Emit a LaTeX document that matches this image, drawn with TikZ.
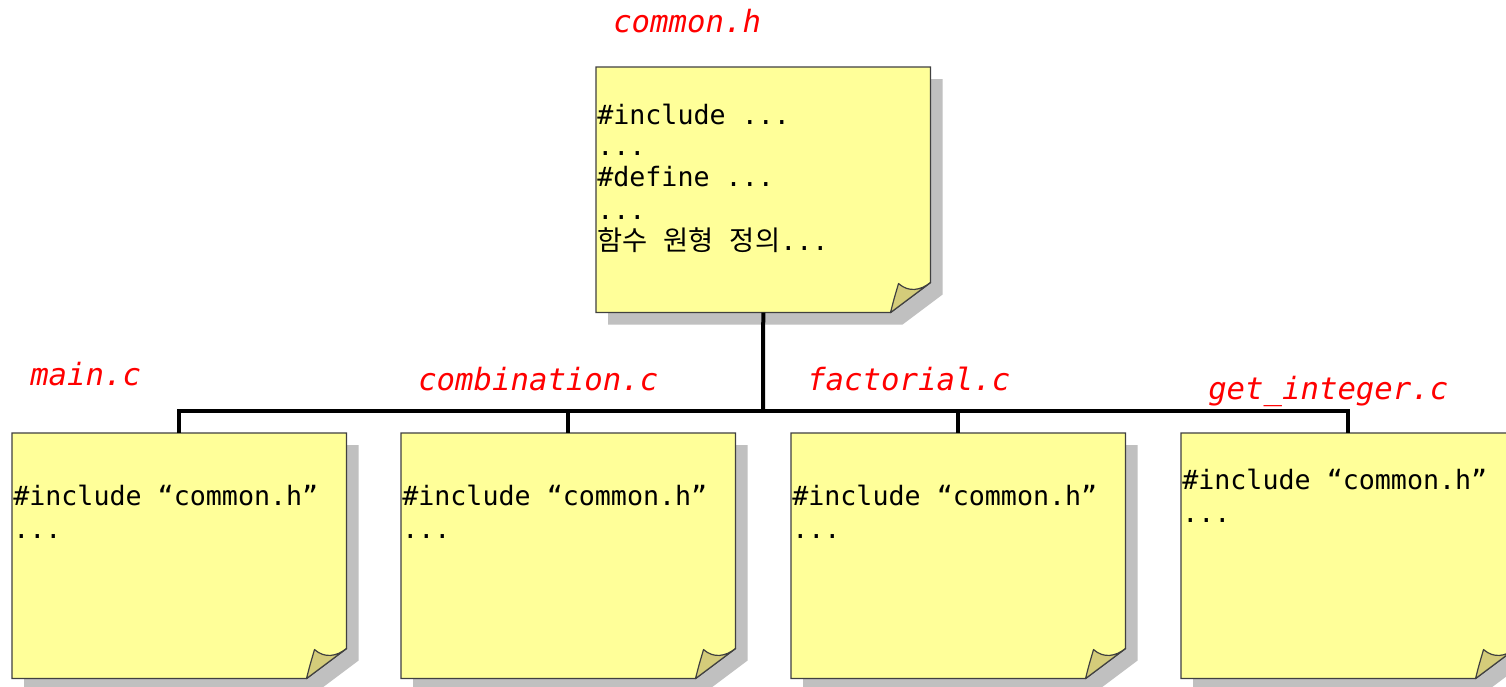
\documentclass[tikz,border=0pt]{standalone}
\usepackage{fontspec}
\newfontfamily\monofnt{DejaVu Sans Mono}
\newfontfamily\labelfnt{DejaVu Sans Mono Oblique}
\newfontfamily\krfnt{Noto Sans CJK KR}
\definecolor{noteyellow}{RGB}{255,255,153}
\definecolor{notefold}{RGB}{212,204,122}
\definecolor{noteshadow}{RGB}{192,192,192}
\definecolor{noteborder}{RGB}{64,64,64}
\definecolor{labelred}{RGB}{255,0,0}
\tikzset{
 notebase/.style={rectangle, inner sep=0pt, minimum width=250.5pt, minimum height=183.75pt, anchor=north west},
 conn/.style={line width=3pt, black},
 codetext/.style={inner sep=0pt, anchor=base west, font=\monofnt\fontsize{20}{24}\selectfont},
 filelabel/.style={inner sep=0pt, anchor=base west, text=labelred, font=\labelfnt\fontsize{23}{27}\selectfont},
}
\newcommand\krtext[1]{{\krfnt\fontsize{20.5}{24}\selectfont #1}}
\newcommand\stickynote[3]{%
 \node[notebase] (#1) at (#2,#3) {};
 \fill[noteshadow] ([shift={(12,12)}]#1.north west) -- ([shift={(12,12)}]#1.north east) -- ([shift={(12,-18)}]#1.south east) -- ([shift={(-28,12)}]#1.south east) -- ([shift={(12,12)}]#1.south west) -- cycle;
 \filldraw[fill=noteyellow, draw=noteborder, line width=0.9pt] (#1.north west) -- (#1.north east) -- ([shift={(0,-30)}]#1.south east) -- ([shift={(-40,0)}]#1.south east) -- (#1.south west) -- cycle;
 \filldraw[fill=notefold, draw=noteborder, line width=0.9pt, line join=round] ([shift={(-40,0)}]#1.south east) .. controls ([shift={(-37,-12)}]#1.south east) .. ([shift={(-32,-29)}]#1.south east) .. controls ([shift={(-22,-20)}]#1.south east) and ([shift={(-10,-22)}]#1.south east) .. ([shift={(0,-30)}]#1.south east) -- cycle;
}
\begin{document}
\begin{tikzpicture}[x=0.75pt,y=-0.75pt]
\useasboundingbox (0,0) rectangle (1506,686);
\clip (0,0) rectangle (1506,686);
\fill[white] (0,0) rectangle (1506,686);
\stickynote{top}{596}{67}
\stickynote{mainc}{12}{433}
\stickynote{comb}{401}{433}
\stickynote{fact}{791}{433}
\stickynote{geti}{1181}{433}
\coordinate (bus) at (763,411);
\draw[conn] (top.south) -- (bus);
\draw[conn] (mainc.north) |- (bus);
\draw[conn] (comb.north) |- (bus);
\draw[conn] (fact.north) |- (bus);
\draw[conn] (geti.north) |- (bus);
\node[filelabel] (ltop) at (613,32) {common.h};
\node[filelabel] (lmain) at (30,385) {main.c};
\node[filelabel] (lcomb) at (418,390) {combination.c};
\node[filelabel] (lfact) at (807,390) {factorial.c};
\node[filelabel] (lgeti) at (1208,399) {get\_integer.c};
\node[codetext] (t1) at (597,124) {\#include ...};
\node[codetext] (t2) at (597,155) {...};
\node[codetext] (t3) at (597,186) {\#define ...};
\node[codetext] (t4) at (597,219) {...};
\node[codetext] (t5) at (597,250) {\krtext{함수} \krtext{원형} \krtext{정의}...};
\node[codetext] (m1) at (13,505) {\#include “common.h”};
\node[codetext] (m2) at (13,538) {...};
\node[codetext] (c1) at (402,505) {\#include “common.h”};
\node[codetext] (c2) at (402,538) {...};
\node[codetext] (f1) at (792,505) {\#include “common.h”};
\node[codetext] (f2) at (792,538) {...};
\node[codetext] (g1) at (1182,489) {\#include “common.h”};
\node[codetext] (g2) at (1182,522) {...};
\end{tikzpicture}
\end{document}
